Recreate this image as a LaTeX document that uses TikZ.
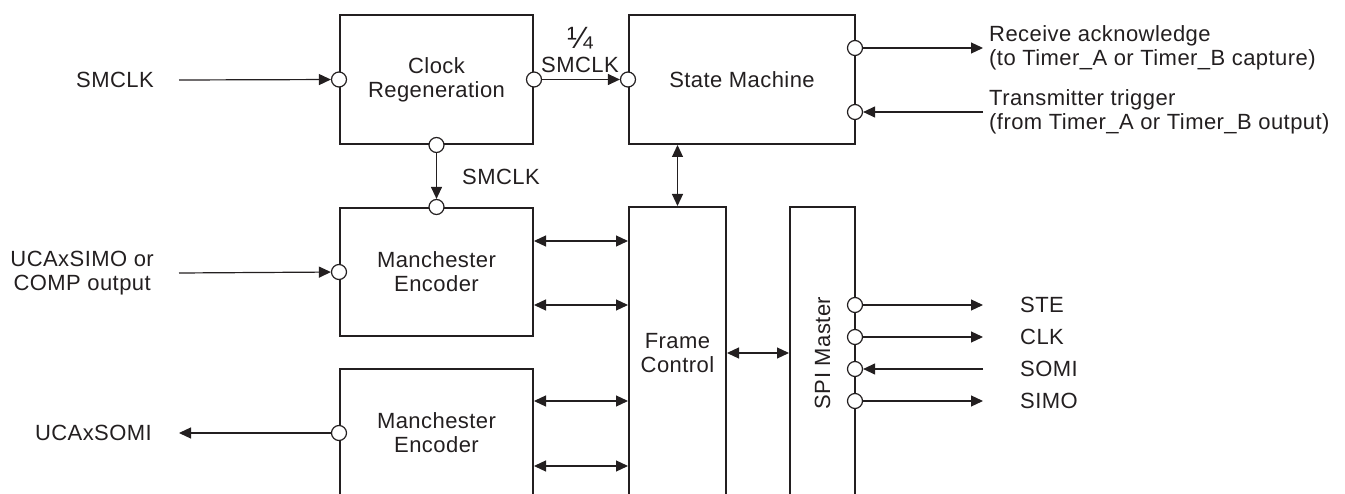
\documentclass[tikz,border=0pt]{standalone}
\usepackage{fontspec}
\setmainfont{Liberation Sans}[LetterSpace=2]
\usepackage{graphicx}
\usetikzlibrary{arrows.meta,positioning}
\definecolor{ink}{HTML}{231F20}
\tikzset{
  block/.style={rectangle,draw=ink,line width=2pt,align=center,inner sep=0pt,text=ink,font=\fontsize{22}{24}\selectfont},
  port/.style={circle,draw=ink,line width=1.2pt,fill=white,minimum size=15pt,inner sep=0pt},
  arrow/.style={-{Triangle[length=12pt,width=11pt]},line width=1.2pt,ink},
  twoway/.style={{Triangle[length=12pt,width=11pt]}-{Triangle[length=12pt,width=11pt]},line width=1.2pt,ink},
  sig/.style={font=\fontsize{22}{24}\selectfont,text=ink,inner sep=0pt,align=left}
}

\begin{document}
\begin{tikzpicture}[x=1pt,y=-1pt]
    \useasboundingbox (0,0) rectangle (1345,494);
    \clip (0,0) rectangle (1345,494);
    % blocks
    \node[block,minimum width=193pt,minimum height=129pt] (clk) at (436.5,79.5) {Clock\\Regeneration};
    \node[block,minimum width=226pt,minimum height=129pt] (sm) at (742,79.5) {State Machine};
    \node[block,minimum width=193pt,minimum height=128pt] (enc1) at (436.5,272) {Manchester\\Encoder};
    \node[block,minimum width=193pt,minimum height=128pt] (enc2) at (436.5,433) {Manchester\\Encoder};
    \node[block,minimum width=97pt,minimum height=292pt] (fc) at (677.5,353) {Frame\\Control};
    \node[block,minimum width=65pt,minimum height=292pt] (spi) at (822.5,353) {\rotatebox{90}{SPI Master}};
    % ports
    \node[port] (clkin) at (clk.west) {};
    \node[port] (clkout) at (clk.east) {};
    \node[port] (clkbot) at (clk.south) {};
    \node[port] (smin) at (sm.west) {};
    \node[port] (smack) at (855,48) {};
    \node[port] (smtrg) at (855,112) {};
    \node[port] (encin) at (enc1.west) {};
    \node[port] (encclk) at (enc1.north) {};
    \node[port] (decout) at (enc2.west) {};
    \node[port] (steport) at (855,305) {};
    \node[port] (clkport) at (855,337) {};
    \node[port] (somiport) at (855,369) {};
    \node[port] (simoport) at (855,401) {};
    % free ends
    \coordinate (smclkin) at (179,80);
    \coordinate (simoin) at (179,273);
    \coordinate (somiout) at (179,433);
    \coordinate (ackout) at (983,48);
    \coordinate (trgin) at (983,112);
    \coordinate (steout) at (983,305);
    \coordinate (clkpout) at (983,337);
    \coordinate (somiin) at (983,369);
    \coordinate (simoout) at (983,401);
    % labels
    \node[sig,left=25pt of smclkin] (smclk) {SMCLK};
    \node[sig,align=center,left=25pt of simoin] (simolbl) {UCAxSIMO or\\COMP output};
    \node[sig,left=27pt of somiout] (somilbl) {UCAxSOMI};
    \node[sig,right=6pt of ackout] (acklbl) {Receive acknowledge\\(to Timer\_A or Timer\_B capture)};
    \node[sig,right=6pt of trgin] (trglbl) {Transmitter trigger\\(from Timer\_A or Timer\_B output)};
    \node[sig,right=37pt of steout] (stelbl) {STE};
    \node[sig,right=37pt of clkpout] (clklbl) {CLK};
    \node[sig,right=37pt of somiin] (somi) {SOMI};
    \node[sig,right=37pt of simoout] (simo) {SIMO};
    \node[sig,align=center] (quarter) at (580,50) {\scalebox{1.4}{¼}\\SMCLK};
    \node[sig] (divclk) at (501,177) {SMCLK};
    % connectors
    \draw[arrow] (smclkin) -- (clkin);
    \draw[arrow] (clkout) -- (smin);
    \draw[arrow] (clkbot) -- (encclk);
    \draw[arrow] (simoin) -- (encin);
    \draw[arrow] (decout) -- (somiout);
    \draw[arrow] (smack) -- (ackout);
    \draw[arrow] (trgin) -- (smtrg);
    \draw[twoway] (sm.south -| fc.north) -- (fc.north);
    \foreach \y in {241,305}
      \draw[twoway] (enc1.east |- 0,\y) -- (fc.west |- 0,\y);
    \foreach \y in {401,466}
      \draw[twoway] (enc2.east |- 0,\y) -- (fc.west |- 0,\y);
    \draw[twoway] (fc) -- (spi);
    \draw[arrow] (steport) -- (steout);
    \draw[arrow] (clkport) -- (clkpout);
    \draw[arrow] (somiin) -- (somiport);
    \draw[arrow] (simoport) -- (simoout);
\end{tikzpicture}
\end{document}
